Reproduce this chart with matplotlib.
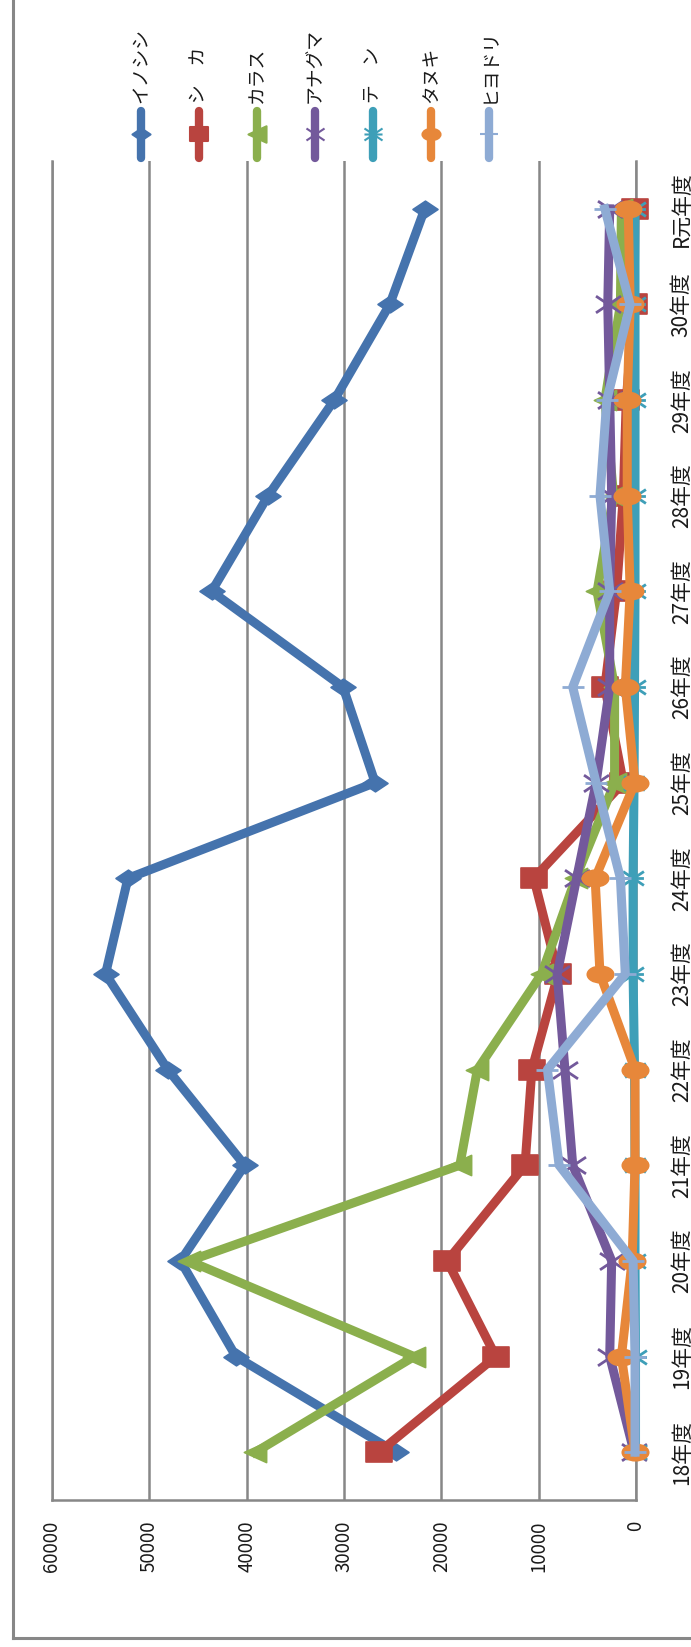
import matplotlib
matplotlib.use("Agg")
import matplotlib.pyplot as plt
from matplotlib.path import Path
from matplotlib.lines import Line2D
import numpy as np

plt.rcParams['font.family'] = ['Noto Sans CJK JP', 'DejaVu Sans']

# categories, oldest at the bottom of the rotated chart
years = ['18年度', '19年度', '20年度', '21年度', '22年度', '23年度', '24年度',
         '25年度', '26年度', '27年度', '28年度', '29年度', '30年度', 'R元年度']
names = ['イノシシ', 'シ　カ', 'カラス', 'アナグマ', 'テ　ン', 'タヌキ', 'ヒヨドリ']

inoshishi = [24700, 41100, 46800, 40200, 48100, 54500, 52200, 26800, 30100, 43600, 37800, 31000, 25300, 21700]
shika = [26400, 14400, 19400, 11400, 10700, 8000, 10500, 1300, 3200, 2000, 1300, 1000, 200, 100]
karasu = [39100, 22800, 45900, 18100, 16300, 9700, 6200, 2200, 2200, 4000, 2300, 3200, 1600, 1500]
anaguma = [200, 2700, 2500, 6500, 7300, 8100, 6100, 4100, 2700, 2700, 2500, 2700, 2900, 2700]
ten = [50, 50, 100, 100, 150, 300, 300, 200, 150, 100, 100, 100, 100, 100]
tanuki = [100, 1500, 400, 100, 100, 3700, 4200, 100, 1100, 600, 900, 900, 600, 800]
hiyodori = [100, 100, 300, 7900, 9100, 1100, 1600, 4100, 6500, 2700, 3700, 3000, 600, 3200]

series = [inoshishi, shika, karasu, anaguma, ten, tanuki, hiyodori]
colors = ['#4573AD', '#B9443F', '#8BAF4D', '#73599B', '#3E9FB8', '#E7873A', '#8EABD4']

# markers are stretched sideways, like the picture
sx = 1.5
M, L, C = Path.MOVETO, Path.LINETO, Path.CLOSEPOLY
diamond = Path([(-sx, 0), (0, 1), (sx, 0), (0, -1), (-sx, 0)], [M, L, L, L, C])
square = Path([(-1.3, -1), (1.3, -1), (1.3, 1), (-1.3, 1), (-1.3, -1)], [M, L, L, L, C])
tri = Path([(-1.1, 0), (1.1, 1), (1.1, -1), (-1.1, 0)], [M, L, L, C])
xmark = Path([(-sx, -1), (sx, 1), (-sx, 1), (sx, -1)], [M, L, M, L])
aster = Path([(-sx, -1), (sx, 1), (-sx, 1), (sx, -1), (-sx, 0), (sx, 0)], [M, L, M, L, M, L])
circ = Path(Path.unit_circle().vertices * [1.6, 1.0], Path.unit_circle().codes)
plus = Path([(-1.4, 0), (1.4, 0), (0, -0.5), (0, 0.5)], [M, L, M, L])
markers = [diamond, square, tri, xmark, aster, circ, plus]
msizes = [18, 19, 16, 18, 15, 19, 16]
filled = [True, True, True, False, False, True, False]

W, H = 691, 1647
fig = plt.figure(figsize=(W / 100, H / 100), dpi=100)
ax = fig.add_axes([52 / W, (H - 1500) / H, (636 - 52) / W, (1500 - 161) / H])

idx = np.arange(len(years))
for vals, col, mk, ms, fl in zip(series, colors, markers, msizes, filled):
    ax.plot(vals, idx, color=col, lw=6.5, marker=mk, ms=ms, mfc=col, mec=col,
            mew=1.2 if fl else 2, solid_joinstyle='round', clip_on=False, zorder=3)

ax.set_xlim(60000, 0)
ax.set_ylim(-0.5, len(years) - 0.5)

grid_c = '#878787'
ax.set_xticks(range(0, 60001, 10000))
ax.set_xticklabels([str(v) for v in range(0, 60001, 10000)], rotation=90)
ax.grid(axis='x', color=grid_c, lw=1.8)
ax.set_axisbelow(True)
ax.spines['top'].set_visible(False)
for s in ['left', 'right', 'bottom']:
    ax.spines[s].set_color(grid_c)
    ax.spines[s].set_linewidth(1.8)
ax.tick_params(axis='x', length=0, pad=15, labelsize=13.5, labelcolor='#1a1a1a')

ax.yaxis.tick_right()
ax.set_yticks(idx)
ax.set_yticklabels(years, rotation=90, va='center')
ax.tick_params(axis='y', length=0, pad=25, labelsize=15, labelcolor='#1a1a1a')

# legend along the top, drawn by hand because it is rotated
for i, (name, col, mk) in enumerate(zip(names, colors, markers)):
    x = (141 + i * 58) / W
    fig.add_artist(Line2D([x, x, x], [1 - 111 / H, 1 - 134 / H, 1 - 158 / H],
                          transform=fig.transFigure, color=col, lw=6,
                          marker=mk, ms=13, mfc=col, mec=col, mew=1.5, markevery=[1],
                          solid_capstyle='round'))
    fig.text(x, 1 - 103 / H, name, rotation=90, ha='center', va='bottom',
             fontsize=13.5, color='#1a1a1a')

# outer chart frame, left and bottom edges
fig.add_artist(Line2D([13 / W, 13 / W], [1, 1 - 1638 / H], transform=fig.transFigure,
                      color=grid_c, lw=2.2))
fig.add_artist(Line2D([13 / W, 1], [1 - 1638 / H, 1 - 1638 / H], transform=fig.transFigure,
                      color=grid_c, lw=2.2))

fig.savefig('out.png', dpi=100)
